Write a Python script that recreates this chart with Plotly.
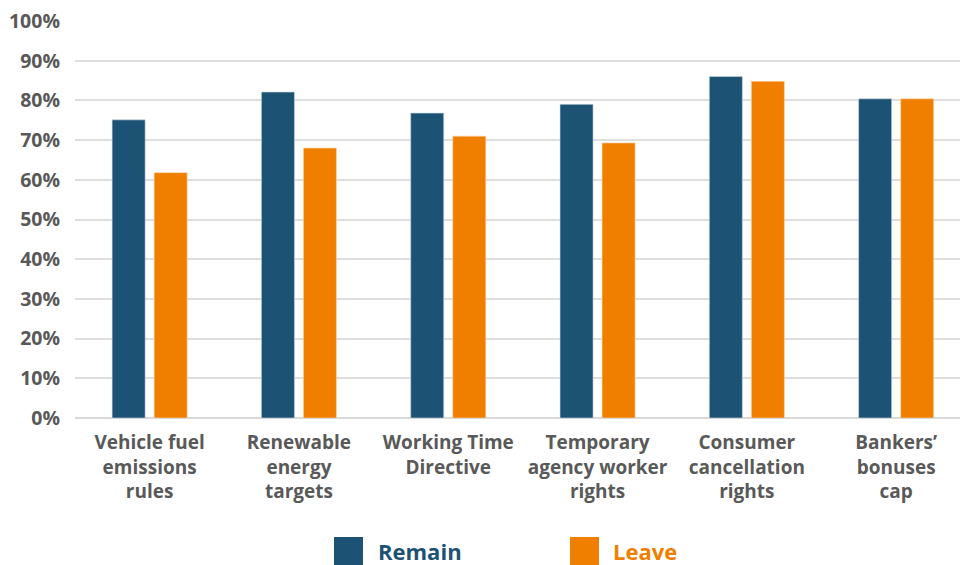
import plotly.graph_objects as go

categories = ["Vehicle fuel emissions rules", "Renewable energy targets", "Working Time Directive",
              "Temporary agency worker rights", "Consumer cancellation rights", "Bankers’ bonuses cap"]
tick_labels = ["Vehicle fuel<br>emissions<br>rules", "Renewable<br>energy<br>targets", "Working Time<br>Directive",
               "Temporary<br>agency worker<br>rights", "Consumer<br>cancellation<br>rights", "Bankers’<br>bonuses<br>cap"]
remain = [0.751, 0.821, 0.768, 0.790, 0.860, 0.804]
leave = [0.618, 0.680, 0.710, 0.693, 0.848, 0.804]
y_ticks = [i / 10 for i in range(11)]

REMAIN_C = "#1c5274"
LEAVE_C = "#f07f00"
GREY = "#595959"
FONT = "Open Sans"

fig = go.Figure()
fig.add_trace(go.Bar(x=categories, y=remain, name="Remain", marker=dict(color=REMAIN_C, line=dict(width=0.6, color="#c9d6e0")), showlegend=False))
fig.add_trace(go.Bar(x=categories, y=leave, name="Leave", marker=dict(color=LEAVE_C, line=dict(width=0.6, color="#fbd9b3")), showlegend=False))

W, H = 960, 565
L, R, T, B = 75, 0, 21, 147
pw, ph = W - L - R, H - T - B

def px(x):
    return (x - L) / pw

def py(y):
    return (H - B - y) / ph

shapes = [
    dict(type="rect", xref="paper", yref="paper", x0=px(334), x1=px(363), y0=py(565), y1=py(537),
         fillcolor=REMAIN_C, line=dict(width=0)),
    dict(type="rect", xref="paper", yref="paper", x0=px(570), x1=px(599), y0=py(565), y1=py(537),
         fillcolor=LEAVE_C, line=dict(width=0)),
]
annotations = [
    dict(xref="paper", yref="paper", x=px(376), y=py(551), xanchor="left", yanchor="middle", showarrow=False,
         text="Remain", font=dict(family=FONT, size=22, color=REMAIN_C, weight="bold")),
    dict(xref="paper", yref="paper", x=px(611), y=py(551), xanchor="left", yanchor="middle", showarrow=False,
         text="Leave", font=dict(family=FONT, size=22, color=LEAVE_C, weight="bold")),
]

cat_w = 149.3
fig.update_layout(
    width=W, height=H, autosize=False,
    margin=dict(l=L, r=R, t=T, b=B, pad=0),
    paper_bgcolor="white", plot_bgcolor="white",
    barmode="group", bargap=0.437, bargroupgap=0.214,
    font=dict(family=FONT, size=19, color=GREY, weight="bold"),
    shapes=shapes, annotations=annotations,
    xaxis=dict(tickmode="array", tickvals=categories, ticktext=tick_labels,
               range=[-0.5, -0.5 + pw / cat_w], showgrid=False, showline=False, ticks="",
               tickfont=dict(family=FONT, size=19, color=GREY, weight="bold"), ticklabelstandoff=11),
    yaxis=dict(range=[0, 1.0], tickvals=y_ticks, tickformat=".0%", showgrid=True,
               gridcolor="#dedede", gridwidth=1.5, zeroline=True, zerolinecolor="#d9d9d9", zerolinewidth=2,
               showline=False, ticks="", ticklabelstandoff=14,
               tickfont=dict(family=FONT, size=19.5, color=GREY, weight="bold")),
)

fig.write_html("out.html")
